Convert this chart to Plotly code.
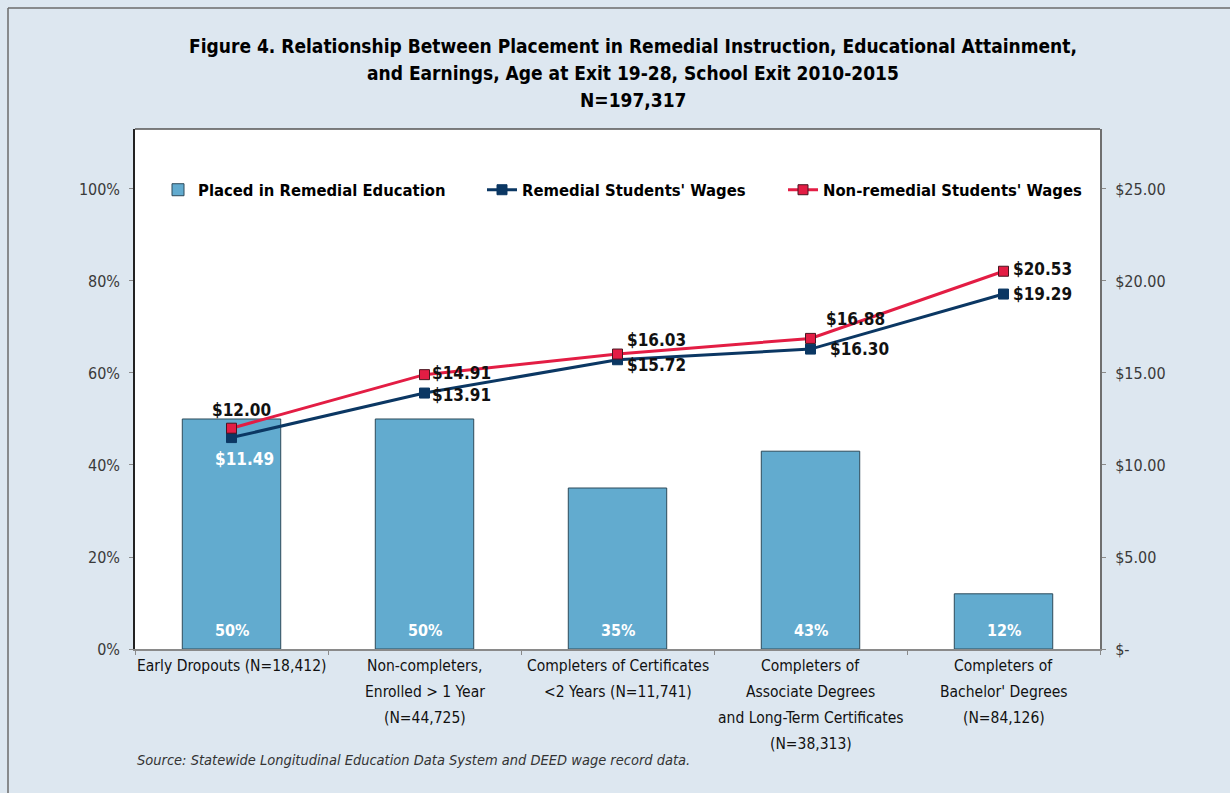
import plotly.graph_objects as go

# ---- data ----
categories = [
    "Early Dropouts (N=18,412)",
    "Non-completers,<br>Enrolled > 1 Year<br>(N=44,725)",
    "Completers of Certificates<br><2 Years (N=11,741)",
    "Completers of<br>Associate Degrees<br>and Long-Term Certificates<br>(N=38,313)",
    "Completers of<br>Bachelor' Degrees<br>(N=84,126)",
]
remedial_pct = [50, 50, 35, 43, 12]
remedial_wages = [11.49, 13.91, 15.72, 16.30, 19.29]
nonremedial_wages = [12.00, 14.91, 16.03, 16.88, 20.53]

pct_ticks = [0, 20, 40, 60, 80, 100]
wage_ticks = [0, 5, 10, 15, 20, 25]
wage_tick_text = ["$-", "$5.00", "$10.00", "$15.00", "$20.00", "$25.00"]

title_lines = [
    "Figure 4. Relationship Between Placement in Remedial Instruction, Educational Attainment,",
    "and Earnings, Age at Exit 19-28, School Exit 2010-2015",
    "N=197,317",
]

# ---- styling ----
FONT = "DejaVu Sans Condensed, Roboto, sans-serif"
BG = "#dde7f0"
BAR = "#62abcf"
NAVY = "#0b3763"
RED = "#e31d44"

W, H = 1230, 793
L, R, T, B = 135, 130, 129, 144
pw, ph = W - L - R, H - T - B


def px_to_paper_y(py):
    """Convert a pixel row (from the top of the page) to paper y."""
    return (H - B - py) / ph


def px_to_paper_x(px):
    return (px - L) / pw


fig = go.Figure()

fig.add_trace(go.Bar(
    x=categories, y=remedial_pct, name="Placed in Remedial Education",
    marker=dict(color=BAR, line=dict(color="#2d4a5a", width=1)),
    width=0.51, yaxis="y", legend="legend",
))

fig.add_trace(go.Scatter(
    x=categories, y=remedial_wages, name="Remedial Students' Wages",
    mode="lines+markers",
    line=dict(color=NAVY, width=3),
    marker=dict(symbol="square", size=10, color=NAVY, line=dict(color=NAVY, width=1)),
    yaxis="y2", legend="legend2",
))

fig.add_trace(go.Scatter(
    x=categories, y=nonremedial_wages, name="Non-remedial Students' Wages",
    mode="lines+markers",
    line=dict(color=RED, width=3),
    marker=dict(symbol="square", size=10, color=RED, line=dict(color="#4a1520", width=1)),
    yaxis="y2", legend="legend3",
))

# percentage labels at the foot of each bar
for cat, v in zip(categories, remedial_pct):
    fig.add_annotation(
        x=cat, y=0, xref="x", yref="y", text=f"<b>{v}%</b>",
        showarrow=False, yanchor="bottom", yshift=7,
        font=dict(family=FONT, size=16, color="white"),
    )

# wage labels: (xshift, yshift, xanchor, font color) per point
nonrem_pos = [(10, 18, "center", "#111"), (5, 2, "left", "#111"), (7, 14, "left", "#111"),
              (13, 19, "left", "#111"), (7, 2, "left", "#111")]
rem_pos = [(13, -21, "center", "white"), (5, -2, "left", "#111"), (7, -5, "left", "#111"),
           (17, 0, "left", "#111"), (7, 0, "left", "#111")]

for vals, pos in ((nonremedial_wages, nonrem_pos), (remedial_wages, rem_pos)):
    for cat, v, (dx, dy, xa, col) in zip(categories, vals, pos):
        fig.add_annotation(
            x=cat, y=v, xref="x", yref="y2", text=f"<b>${v:.2f}</b>",
            showarrow=False, xanchor=xa, yanchor="middle",
            xshift=dx, yshift=dy,
            font=dict(family=FONT, size=17, color=col),
        )

# category labels under the axis, one line at a time for wider line spacing
LINE_GAP = 26
for cat in categories:
    for i, line in enumerate(cat.split("<br>")):
        fig.add_annotation(
            x=cat, y=0, xref="x", yref="y", text=line,
            showarrow=False, yanchor="middle", yshift=-17 - i * LINE_GAP,
            font=dict(family=FONT, size=15.5, color="#111"),
        )

# title, one line at a time
for i, line in enumerate(title_lines):
    fig.add_annotation(
        x=px_to_paper_x(633), y=px_to_paper_y(46 + i * 27), xref="paper", yref="paper",
        text=f"<b>{line}</b>", showarrow=False, xanchor="center", yanchor="middle",
        font=dict(family=FONT, size=19, color="#000"),
    )

# source note
fig.add_annotation(
    x=0, y=px_to_paper_y(760), xref="paper", yref="paper",
    text="<i>Source: Statewide Longitudinal Education Data System and DEED wage record data.</i>",
    showarrow=False, xanchor="left", yanchor="middle",
    font=dict(family=FONT, size=14.5, color="#333"),
)

# outer frame lines (top and left)
fx0 = px_to_paper_x(8)
fy1 = px_to_paper_y(8)
fig.add_shape(type="line", xref="paper", yref="paper", x0=fx0, x1=px_to_paper_x(W), y0=fy1, y1=fy1,
              line=dict(color="#6b6b6b", width=1.5))
fig.add_shape(type="line", xref="paper", yref="paper", x0=fx0, x1=fx0, y0=fy1, y1=px_to_paper_y(H),
              line=dict(color="#6b6b6b", width=1.5))

# top border of plot area
fig.add_shape(type="line", xref="paper", yref="paper", x0=0, x1=1, y0=1, y1=1,
              line=dict(color="#555", width=1.5))

tick_font = dict(family=FONT, size=16, color="#3a3a3a")
legend_font = dict(family=FONT, size=16.5, color="#000", weight="bold")


def legend_at(px):
    return dict(
        orientation="h", x=px_to_paper_x(px - 40), y=px_to_paper_y(190),
        xanchor="left", yanchor="middle",
        font=legend_font, bgcolor="rgba(0,0,0,0)", itemwidth=30,
    )


fig.update_layout(
    width=W, height=H,
    margin=dict(l=L, r=R, t=T, b=B, autoexpand=False),
    paper_bgcolor=BG, plot_bgcolor="white",
    font=dict(family=FONT, color="#111"),
    showlegend=True,
    legend=legend_at(198),
    legend2=legend_at(522),
    legend3=legend_at(823),
    xaxis=dict(
        type="category", showline=True, linecolor="#8a8a8a", linewidth=2, mirror=False,
        ticks="outside", tickson="boundaries", ticklen=4, tickcolor="#8a8a8a",
        showticklabels=False, showgrid=False,
    ),
    yaxis=dict(
        range=[0, 113.04], tickvals=pct_ticks, ticktext=[f"{v}%" for v in pct_ticks],
        showline=True, linecolor="#222", linewidth=1.5, ticks="outside", ticklen=4,
        tickcolor="#8a8a8a", tickfont=tick_font, showgrid=False, zeroline=False,
        ticklabelstandoff=6,
    ),
    yaxis2=dict(
        range=[0, 28.26], tickvals=wage_ticks, ticktext=wage_tick_text,
        overlaying="y", side="right",
        showline=True, linecolor="#6f6f6f", linewidth=2, ticks="outside", ticklen=4,
        tickcolor="#8a8a8a", tickfont=tick_font, showgrid=False, zeroline=False,
        ticklabelstandoff=6,
    ),
)

fig.write_html("out.html")
